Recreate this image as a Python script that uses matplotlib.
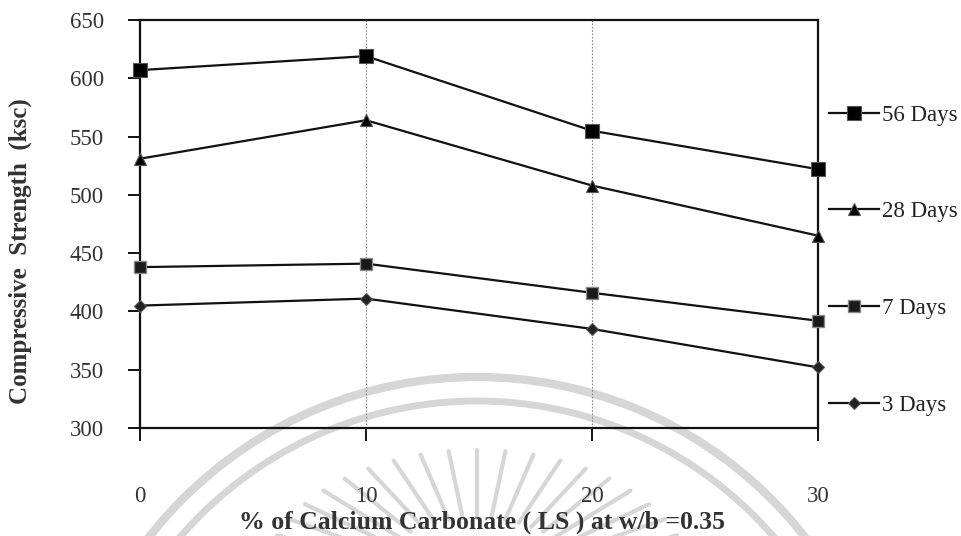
import numpy as np
import matplotlib
matplotlib.use("Agg")
import matplotlib.pyplot as plt
from matplotlib.patches import Arc

plt.rcParams['font.family'] = ['Liberation Serif', 'DejaVu Serif']

x_pct = [0, 10, 20, 30]
series_labels = ["56 Days", "28 Days", "7 Days", "3 Days"]
s56 = [607, 619, 555, 522]
s28 = [531, 564, 508, 465]
s7 = [438, 441, 416, 392]
s3 = [405, 411, 385, 352]
y_ticks = [300, 350, 400, 450, 500, 550, 600, 650]
x_ticks = [0, 10, 20, 30]

W, H = 962, 536
fig = plt.figure(figsize=(W / 100, H / 100), dpi=100)

# watermark layer (pixel coordinates)
bg = fig.add_axes([0, 0, 1, 1], zorder=0)
bg.set_xlim(0, W)
bg.set_ylim(H, 0)
bg.axis('off')
wm = '#d6d6d6'
cx, cy = 477, 793
bg.add_patch(Arc((cx, cy), 2 * 416, 2 * 416, theta1=0, theta2=360, color=wm, lw=6.0))
bg.add_patch(Arc((cx, cy), 2 * 392, 2 * 392, theta1=0, theta2=360, color=wm, lw=5.0))
rc = (477, 585)
for ang in np.linspace(14, 166, 21):
    t = np.deg2rad(ang)
    ax_, by_ = 215, 135
    ox, oy = rc[0] + ax_ * np.cos(t), rc[1] - by_ * np.sin(t)
    ix, iy = rc[0] + 0.5 * ax_ * np.cos(t), rc[1] - 0.5 * by_ * np.sin(t)
    bg.plot([ix, ox], [iy, oy], color=wm, lw=3.0, solid_capstyle='round')

ax = fig.add_axes([140 / W, 1 - 428 / H, (818 - 140) / W, (428 - 20) / H], zorder=1)
ax.patch.set_alpha(0)

common = dict(color='#111111', lw=1.6, clip_on=False, zorder=3)
ax.plot(x_pct, s56, marker='s', ms=10, mfc='#000000', mec='#555555', mew=0.8, label=series_labels[0], **common)
ax.plot(x_pct, s28, marker='^', ms=9, mfc='#000000', mec='#555555', mew=0.8, label=series_labels[1], **common)
ax.plot(x_pct, s7, marker='s', ms=8.5, mfc='#1a1a1a', mec='#8a8a8a', mew=1.0, label=series_labels[2], **common)
ax.plot(x_pct, s3, marker='D', ms=6.5, mfc='#222222', mec='#555555', mew=0.8, label=series_labels[3], **common)

ax.set_xlim(0, 30)
ax.set_ylim(300, 650)
ax.set_xticks(x_ticks)
ax.set_yticks(y_ticks)
for v in x_ticks[1:-1]:
    ax.axvline(v, color='#888888', lw=0.8, ls=(0, (1.5, 1.5)), zorder=1)
for s in ax.spines.values():
    s.set_linewidth(1.6)
    s.set_color('#111111')
ax.tick_params(axis='y', direction='out', length=9, width=1.4, pad=17, labelsize=16.5, labelcolor='#333333', color='#111111')
ax.tick_params(axis='x', direction='out', length=9, width=1.4, pad=33, labelsize=16.5, labelcolor='#333333', color='#111111')

ax.set_xlabel('% of Calcium Carbonate ( LS ) at w/b =0.35', fontsize=18.5, fontweight='bold', color='#333333')
ax.xaxis.set_label_coords((482 - 140) / 678, (428 - 522) / 408)
ax.xaxis.label.set_va('center')
ax.set_ylabel('Compressive  Strength  (ksc)', fontsize=18, fontweight='bold', color='#333333')
ax.yaxis.set_label_coords((20 - 140) / 678, (428 - 251) / 408)
ax.yaxis.label.set_va('center')

handles, labels = ax.get_legend_handles_labels()
fig.legend(handles, labels, loc='center left', bbox_to_anchor=(829 / W, 1 - 260 / H),
           frameon=False, fontsize=16.5, labelspacing=3.3, handlelength=2.2, handletextpad=0.12,
           borderpad=0, borderaxespad=0, labelcolor='#222222')

fig.savefig('out.png', dpi=100)
